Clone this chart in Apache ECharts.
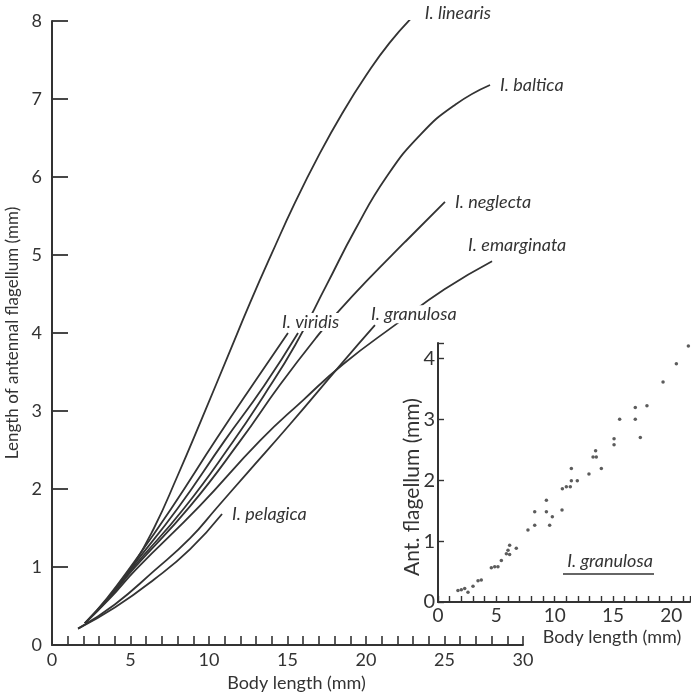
<!DOCTYPE html>
<html>
<head>
<meta charset="utf-8">
<style>
  html, body { margin: 0; padding: 0; background: #fff; }
  #chart { width: 691px; height: 696px; }
</style>
<script src="https://cdn.jsdelivr.net/npm/echarts/dist/echarts.min.js"></script>
</head>
<body>
<div id="chart"></div>
<script>
// main plot: body length (mm) vs length of antennal flagellum (mm)
const linearis = [[2.1, 0.28], [3.6, 0.6], [5.1, 1.0], [6.5, 1.5], [8, 2.17], [9.5, 2.88], [11.4, 3.8], [12.6, 4.38], [14, 5.02], [15.5, 5.68], [17, 6.28], [18.5, 6.82], [20, 7.3], [21.5, 7.72], [23.1, 8.08]]
const baltica = [[2.1, 0.28], [3.6, 0.6], [5.2, 1.0], [8.4, 1.75], [11.5, 2.6], [13.5, 3.2], [15.5, 3.85], [17.5, 4.62], [19.3, 5.32], [21.3, 6.0], [23.5, 6.55], [25.7, 6.93], [27.9, 7.18]]
const neglecta = [[2.1, 0.28], [3.6, 0.6], [5.3, 1.0], [8.8, 1.78], [12, 2.62], [14.5, 3.33], [16.94, 3.97], [18.22, 4.27], [20.06, 4.67], [22.5, 5.17], [25.03, 5.68]]
const emarginata = [[2.1, 0.28], [3.7, 0.6], [5.4, 0.98], [9.4, 1.78], [13.25, 2.62], [16, 3.14], [18.54, 3.6], [21.97, 4.12], [25, 4.56], [28.03, 4.92]]
const viridisA = [[2.1, 0.28], [3.5, 0.6], [5.0, 1.0], [7.6, 1.75], [10.5, 2.65], [13, 3.4], [15.03, 4.0]]
const viridisB = [[2.1, 0.28], [3.6, 0.6], [5.1, 1.0], [8.0, 1.75], [11, 2.62], [13.5, 3.32], [15.67, 4.0]]
const granulosa = [[1.66, 0.21], [4, 0.52], [6.5, 0.95], [8.8, 1.37], [10.5, 1.76], [12.5, 2.22], [15.16, 2.83], [18.54, 3.63], [20.57, 4.1]]
const pelagica = [[1.66, 0.21], [4, 0.48], [6.5, 0.84], [8.8, 1.23], [10.83, 1.68]]

// inset: I. granulosa individuals
const granulosaBody = [1.71, 2.0, 2.29, 2.57, 3.0, 3.43, 3.71, 4.57, 4.86, 5.14, 5.43, 5.86, 6.0, 6.14, 6.14, 6.71, 7.71, 8.29, 8.29, 9.29, 9.29, 9.57, 9.8, 10.63, 10.66, 11.0, 11.34, 11.43, 11.43, 11.94, 12.94, 13.29, 13.51, 13.57, 14.0, 15.09, 15.09, 15.57, 16.91, 16.91, 17.34, 17.91, 19.29, 20.43, 21.46]
const granulosaAnt = [0.19, 0.2, 0.22, 0.16, 0.26, 0.35, 0.36, 0.56, 0.58, 0.58, 0.68, 0.79, 0.85, 0.93, 0.78, 0.88, 1.18, 1.48, 1.26, 1.67, 1.48, 1.26, 1.4, 1.51, 1.86, 1.89, 1.89, 2.19, 1.99, 1.99, 2.1, 2.38, 2.48, 2.38, 2.19, 2.68, 2.58, 3.0, 3.19, 3.0, 2.7, 3.22, 3.61, 3.91, 4.2]

const ink = '#333'
const font = 'Lato, sans-serif'

const node = document.getElementById('chart')
const myChart = echarts.init(node)

function curve(name, data, label, offset) {
	const s = {
		name: name,
		type: 'line',
		xAxisIndex: 0,
		yAxisIndex: 0,
		data: data,
		smooth: 0.5,
		showSymbol: false,
		silent: true,
		lineStyle: { color: ink, width: 1.8 }
	}
	if (label) {
		s.endLabel = {
			show: true,
			formatter: label,
			offset: offset || [0, 0],
			fontFamily: font,
			fontStyle: 'italic',
			fontSize: 18,
			color: ink,
			backgroundColor: '#fff',
			padding: [0, 2]
		}
	}
	return s
}

const points = granulosaBody.map((x, i) => [x, granulosaAnt[i]])

const option = {
	animation: false,
	backgroundColor: '#fff',
	grid: [
		{ left: 52, top: 21, width: 471, height: 624, outerBoundsMode: 'none', containLabel: false },
		{ left: 438, top: 343, width: 252, height: 259, outerBoundsMode: 'none', containLabel: false }
	],
	xAxis: [
		{
			gridIndex: 0,
			type: 'value',
			min: 0,
			max: 30,
			interval: 1,
			name: 'Body length (mm)',
			nameLocation: 'middle',
			nameGap: 29,
			nameTextStyle: { fontFamily: font, fontSize: 18, color: ink, padding: [0, 0, 0, 18] },
			axisLine: { lineStyle: { color: ink, width: 2 } },
			axisTick: { inside: true, length: 9, lineStyle: { color: ink, width: 1.6 } },
			axisLabel: {
				margin: 6,
				fontFamily: font,
				fontSize: 18,
				color: ink,
				formatter: v => (v % 5 === 0 ? String(v) : '')
			},
			splitLine: { show: false }
		},
		{
			gridIndex: 1,
			type: 'value',
			min: 0,
			max: 21.6,
			interval: 1,
			axisLine: { lineStyle: { color: ink, width: 2 } },
			axisTick: { inside: true, length: 6, lineStyle: { color: ink, width: 1.4 } },
			axisLabel: {
				margin: 4,
				fontFamily: font,
				fontSize: 19,
				color: ink,
				formatter: v => (v % 5 === 0 ? String(v) : '')
			},
			splitLine: { show: false }
		}
	],
	yAxis: [
		{
			gridIndex: 0,
			type: 'value',
			min: 0,
			max: 8,
			interval: 1,
			name: 'Length of antennal flagellum (mm)',
			nameLocation: 'middle',
			nameGap: 25,
			nameTextStyle: { fontFamily: font, fontSize: 17, color: ink },
			axisLine: { lineStyle: { color: ink, width: 2 } },
			axisTick: { inside: true, length: 16, lineStyle: { color: ink, width: 1.8 } },
			axisLabel: { margin: 10, fontFamily: font, fontSize: 18, color: ink },
			splitLine: { show: false }
		},
		{
			gridIndex: 1,
			type: 'value',
			min: 0,
			max: 4.25,
			interval: 1,
			axisLine: { lineStyle: { color: ink, width: 2 } },
			axisTick: { inside: true, length: 6, lineStyle: { color: ink, width: 1.4 } },
			axisLabel: {
				margin: 3,
				fontFamily: font,
				fontSize: 20,
				color: ink,
				formatter: v => (Number.isInteger(v) ? String(v) : '')
			},
			splitLine: { show: false }
		}
	],
	graphic: [
		{
			type: 'text',
			x: 412,
			y: 487,
			rotation: Math.PI / 2,
			style: { text: 'Ant. flagellum (mm)', fontFamily: font, fontSize: 21, fill: ink, align: 'center', verticalAlign: 'middle' }
		},
		{
			type: 'text',
			x: 612,
			y: 637,
			style: { text: 'Body length (mm)', fontFamily: font, fontSize: 18, fill: ink, align: 'center', verticalAlign: 'middle' }
		},
		{
			type: 'text',
			x: 610,
			y: 561,
			style: { text: 'I. granulosa', fontFamily: font, fontStyle: 'italic', fontSize: 18, fill: ink, align: 'center', verticalAlign: 'middle' }
		},
		{
			type: 'line',
			shape: { x1: 563, y1: 574, x2: 654, y2: 574 },
			style: { stroke: ink, lineWidth: 1.6 }
		}
	],
	series: [
		curve('I. linearis', linearis, 'I. linearis', [0, -2]),
		curve('I. baltica', baltica, 'I. baltica'),
		curve('I. neglecta', neglecta, 'I. neglecta'),
		curve('I. emarginata', emarginata, 'I. emarginata', [-34, -16]),
		curve('I. viridis (a)', viridisB),
		curve('I. viridis', viridisA, 'I. viridis', [-16, -11]),
		curve('I. granulosa', granulosa, 'I. granulosa', [-14, -11]),
		curve('I. pelagica', pelagica, 'I. pelagica'),
		{
			name: 'I. granulosa (individuals)',
			type: 'scatter',
			xAxisIndex: 1,
			yAxisIndex: 1,
			data: points,
			symbolSize: 3.5,
			itemStyle: { color: ink },
			silent: true
		}
	]
}

myChart.setOption(option)

window.addEventListener('resize', () => {
	myChart.resize()
})
</script>
</body>
</html>
